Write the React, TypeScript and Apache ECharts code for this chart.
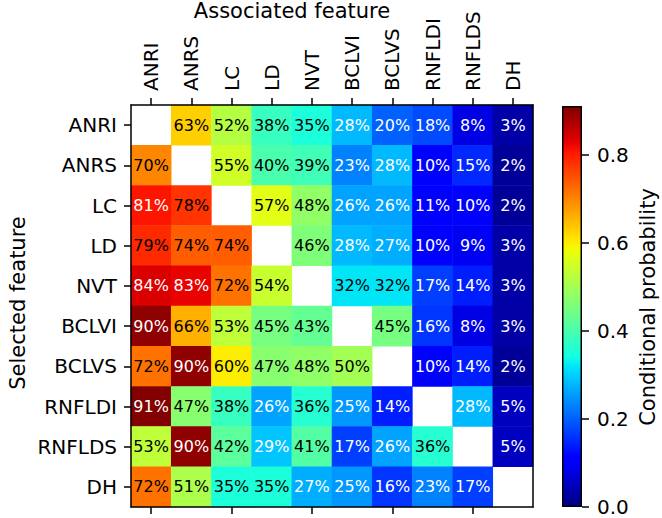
import React, { useEffect, useRef } from "react";
import * as echarts from "echarts";

const FEATURES = ["ANRI", "ANRS", "LC", "LD", "NVT", "BCLVI", "BCLVS", "RNFLDI", "RNFLDS", "DH"];

// rows = selected feature, columns = associated feature, values in percent
const ROW_ANRI = [null, 63, 52, 38, 35, 28, 20, 18, 8, 3];
const ROW_ANRS = [70, null, 55, 40, 39, 23, 28, 10, 15, 2];
const ROW_LC = [81, 78, null, 57, 48, 26, 26, 11, 10, 2];
const ROW_LD = [79, 74, 74, null, 46, 28, 27, 10, 9, 3];
const ROW_NVT = [84, 83, 72, 54, null, 32, 32, 17, 14, 3];
const ROW_BCLVI = [90, 66, 53, 45, 43, null, 45, 16, 8, 3];
const ROW_BCLVS = [72, 90, 60, 47, 48, 50, null, 10, 14, 2];
const ROW_RNFLDI = [91, 47, 38, 26, 36, 25, 14, null, 28, 5];
const ROW_RNFLDS = [53, 90, 42, 29, 41, 17, 26, 36, null, 5];
const ROW_DH = [72, 51, 35, 35, 27, 25, 16, 23, 17, null];

const MATRIX = [ROW_ANRI, ROW_ANRS, ROW_LC, ROW_LD, ROW_NVT, ROW_BCLVI, ROW_BCLVS, ROW_RNFLDI, ROW_RNFLDS, ROW_DH];

const VMAX = 0.912; // colour scale maximum (probability)
const CB_TICKS = [0, 0.2, 0.4, 0.6, 0.8];

const X_TITLE = "Associated feature";
const Y_TITLE = "Selected feature";
const CB_TITLE = "Conditional probability";

const FONT = "DejaVu Sans";

// matplotlib "jet" colormap
const JET_R = [[0, 0], [0.35, 0], [0.66, 1], [0.89, 1], [1, 0.5]];
const JET_G = [[0, 0], [0.125, 0], [0.375, 1], [0.64, 1], [0.91, 0], [1, 0]];
const JET_B = [[0, 0.5], [0.11, 1], [0.34, 1], [0.65, 0], [1, 0]];
function seg(pts: number[][], x: number) {
  for (let i = 1; i < pts.length; i++) {
    if (x <= pts[i][0]) {
      const [x0, y0] = pts[i - 1];
      const [x1, y1] = pts[i];
      return y0 + ((x - x0) / (x1 - x0)) * (y1 - y0);
    }
  }
  return pts[pts.length - 1][1];
}
function jet(t: number) {
  const c = (v: number) => Math.round(Math.max(0, Math.min(1, v)) * 255);
  return `rgb(${c(seg(JET_R, t))},${c(seg(JET_G, t))},${c(seg(JET_B, t))})`;
}
const JET_COLORS: string[] = [];
for (let i = 0; i <= 128; i++) JET_COLORS.push(jet(i / 128));

export default function App() {
  const ref = useRef<HTMLDivElement>(null);
  useEffect(() => {
    if (!ref.current) return;
    const chart = echarts.init(ref.current, null, { renderer: "svg" });

    const data: any[] = [];
    MATRIX.forEach((row, y) => {
      row.forEach((v, x) => {
        if (v === null) return;
        data.push({
          value: [x, y, v],
          label: { color: v < 30 || v > 80 ? "#ffffff" : "#000000" },
        });
      });
    });

    const line = { show: true, lineStyle: { color: "#000", width: 1.5 } };
    const tick = { show: true, length: 7, alignWithLabel: true, lineStyle: { color: "#000", width: 1.5 } };
    const tickLabel = { color: "#000", fontFamily: FONT, fontSize: 20 };

    const stops = JET_COLORS.map((c, i) => ({ offset: i / (JET_COLORS.length - 1), color: c }));

    chart.setOption({
      animation: false,
      backgroundColor: "#fff",
      grid: [
        { left: 131, top: 105, width: 402, height: 402 },
        { left: 562, top: 106, width: 20, height: 401 },
      ],
      xAxis: [
        {
          type: "category", data: FEATURES, gridIndex: 0, position: "top", z: 10,
          axisLine: line, axisTick: tick,
          axisLabel: { ...tickLabel, rotate: -90, margin: 14, interval: 0 },
          splitLine: { show: false },
        },
        {
          type: "category", data: FEATURES, gridIndex: 0, position: "bottom", z: 10,
          axisLine: line, axisTick: tick, axisLabel: { show: false }, splitLine: { show: false },
        },
        { type: "category", data: ["cb"], gridIndex: 1, show: false },
      ],
      yAxis: [
        {
          type: "category", data: FEATURES, gridIndex: 0, position: "left", inverse: true, z: 10,
          axisLine: line, axisTick: tick,
          axisLabel: { ...tickLabel, margin: 14, interval: 0 },
          splitLine: { show: false },
        },
        {
          type: "category", data: FEATURES, gridIndex: 0, position: "right", inverse: true, z: 10,
          axisLine: line, axisTick: { show: false }, axisLabel: { show: false }, splitLine: { show: false },
        },
        {
          type: "value", gridIndex: 1, position: "right", min: 0, max: VMAX, z: 10,
          axisLine: { show: false },
          axisTick: { show: true, length: 7, customValues: CB_TICKS, lineStyle: { color: "#000", width: 1.5 } },
          axisLabel: { ...tickLabel, margin: 15, customValues: CB_TICKS, formatter: (v: number) => v.toFixed(1) },
          splitLine: { show: false },
        },
      ],
      visualMap: {
        show: false, type: "continuous", min: 0, max: VMAX * 100, dimension: 2, seriesIndex: 0,
        inRange: { color: JET_COLORS },
      },
      graphic: [
        {
          type: "text", x: 292, y: 11,
          style: { text: X_TITLE, fontFamily: FONT, fontSize: 21, fill: "#000", textAlign: "center", textVerticalAlign: "middle" },
        },
        {
          type: "text", x: 18, y: 303, rotation: Math.PI / 2,
          style: { text: Y_TITLE, fontFamily: FONT, fontSize: 21, fill: "#000", textAlign: "center", textVerticalAlign: "middle" },
        },
        {
          type: "text", x: 648, y: 307, rotation: Math.PI / 2,
          style: { text: CB_TITLE, fontFamily: FONT, fontSize: 21, fill: "#000", textAlign: "center", textVerticalAlign: "middle" },
        },
      ],
      series: [
        {
          type: "heatmap", xAxisIndex: 0, yAxisIndex: 0, data,
          label: {
            show: true, fontFamily: FONT, fontSize: 16,
            formatter: (p: any) => `${p.value[2]}%`,
          },
          emphasis: { disabled: true },
          itemStyle: { borderWidth: 0 },
        },
        {
          type: "bar", xAxisIndex: 2, yAxisIndex: 2, data: [VMAX], barWidth: "100%",
          itemStyle: {
            color: new echarts.graphic.LinearGradient(0, 1, 0, 0, stops),
            borderColor: "#000", borderWidth: 1.5,
          },
          emphasis: { disabled: true },
          silent: true,
        },
      ],
    });
    return () => chart.dispose();
  }, []);
  return (
    <div
      ref={ref}
      style={{ position: "absolute", left: 0, top: 0, width: 662, height: 518 }}
    />
  );
}
